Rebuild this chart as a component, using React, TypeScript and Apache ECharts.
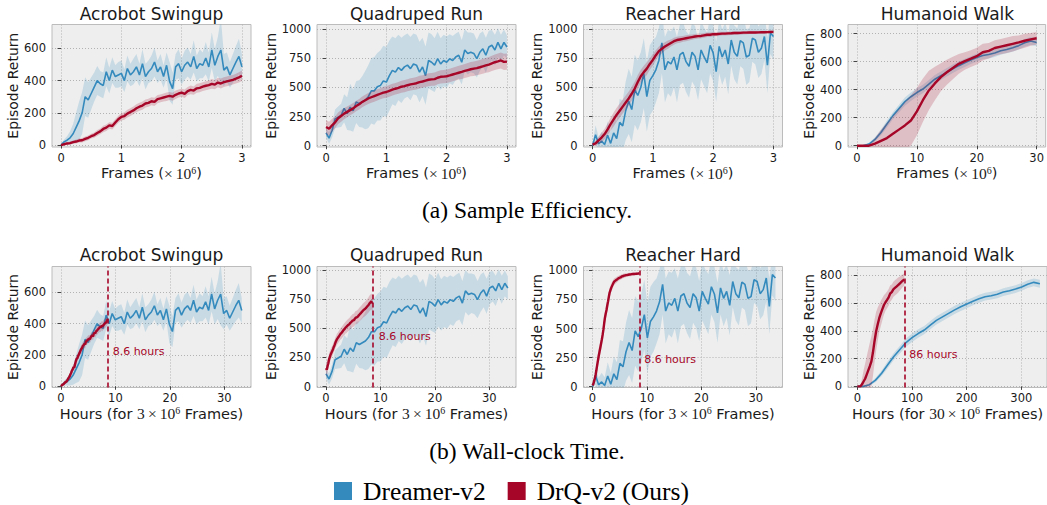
import React, { useEffect, useRef } from 'react';
import * as echarts from 'echarts';

// ---------------- data ----------------
const taskNames = ['Acrobot Swingup', 'Quadruped Run', 'Reacher Hard', 'Humanoid Walk'];
const legendNames = ['Dreamer-v2', 'DrQ-v2 (Ours)'];

// evaluation schedule, in millions of frames
const evalFrames3M = Array.from({ length: 61 }, (_, i) => Math.round(i * 5) / 100);
const evalFrames30M = Array.from({ length: 31 }, (_, i) => i);

const framesTotal = [3, 3, 3, 30]; // x10^6 frames
const dreamerHoursTotal = [33.2, 33.4, 33.6, 334];
const drqHoursTotal = [8.6, 8.6, 8.6, 86];
const hourLabels = ['8.6 hours', '8.6 hours', '8.6 hours', '86 hours'];
const hourLabelAt = [[9.4, 223], [9.6, 426], [9.4, 234], [94, 226]];

const frameTicks = [[0, 1, 2, 3], [0, 1, 2, 3], [0, 1, 2, 3], [0, 10, 20, 30]];
const hourTicks = [[0, 10, 20, 30], [0, 10, 20, 30], [0, 10, 20, 30], [0, 100, 200, 300]];
const returnTicks = [[0, 200, 400, 600], [0, 250, 500, 750, 1000], [0, 250, 500, 750, 1000], [0, 200, 400, 600, 800]];

const acrobotDreamer = [
  0, 20, 30, 45, 70, 110, 150, 200, 300, 280,
  320, 360, 400, 380, 370, 455, 400, 465, 425, 435,
  445, 400, 475, 435, 455, 485, 435, 505, 425, 455,
  475, 515, 455, 485, 425, 495, 395, 350, 485, 505,
  455, 495, 515, 485, 550, 475, 505, 495, 540, 485,
  590, 495, 550, 590, 465, 485, 435, 475, 515, 550,
  485,
];
const acrobotDreamerSpread = [
  5, 15, 25, 40, 60, 90, 120, 130, 120, 110,
  100, 90, 90, 80, 80, 90, 80, 80, 70, 80,
  80, 70, 80, 70, 80, 80, 70, 90, 80, 70,
  80, 90, 70, 80, 70, 80, 120, 100, 80, 90,
  80, 90, 90, 80, 100, 80, 90, 80, 100, 90,
  110, 100, 120, 200, 100, 90, 80, 90, 100, 110,
  80,
];
const acrobotDrq = [
  0, 5, 10, 12, 18, 22, 28, 30, 38, 45,
  55, 62, 75, 85, 100, 108, 122, 118, 140, 160,
  175, 180, 195, 205, 215, 228, 238, 245, 258, 262,
  272, 268, 285, 290, 295, 300, 305, 300, 312, 320,
  325, 318, 335, 342, 338, 352, 355, 362, 368, 372,
  380, 375, 388, 382, 390, 395, 400, 405, 412, 420,
  430,
];
const acrobotDrqSpread = [
  2, 5, 8, 10, 10, 12, 12, 14, 15, 15,
  15, 16, 18, 18, 20, 20, 20, 21, 22, 22,
  22, 23, 24, 24, 24, 25, 25, 26, 25, 25,
  25, 26, 25, 24, 25, 26, 25, 25, 26, 25,
  25, 26, 25, 27, 26, 28, 28, 27, 28, 28,
  30, 29, 30, 31, 30, 30, 31, 30, 30, 32,
  32,
];

const quadrupedDreamer = [
  110, 65, 130, 230, 245, 260, 320, 275, 330, 300,
  375, 360, 375, 390, 420, 470, 470, 505, 515, 555,
  545, 600, 645, 630, 670, 645, 675, 690, 660, 700,
  690, 630, 675, 600, 730, 715, 690, 745, 700, 730,
  715, 745, 730, 760, 775, 715, 820, 790, 800, 790,
  745, 800, 830, 775, 845, 860, 820, 885, 830, 885,
  845,
];
const quadrupedDreamerSpread = [
  40, 50, 60, 80, 90, 100, 120, 140, 200, 180,
  180, 200, 220, 250, 270, 280, 290, 290, 300, 300,
  300, 300, 290, 290, 280, 280, 270, 270, 270, 260,
  260, 260, 250, 250, 240, 240, 230, 230, 220, 220,
  220, 210, 210, 200, 200, 190, 180, 180, 170, 170,
  160, 160, 150, 150, 140, 130, 130, 120, 120, 110,
  100,
];
const quadrupedDrq = [
  160, 145, 175, 200, 235, 255, 275, 290, 305, 320,
  340, 355, 375, 390, 405, 415, 425, 435, 445, 455,
  460, 470, 480, 488, 495, 505, 510, 518, 525, 530,
  535, 545, 550, 558, 565, 568, 570, 582, 590, 592,
  595, 602, 610, 618, 625, 632, 640, 648, 655, 660,
  665, 672, 680, 688, 695, 705, 715, 722, 730, 718,
  720,
];
const quadrupedDrqSpread = [
  60, 60, 55, 50, 50, 50, 48, 46, 45, 45,
  45, 45, 46, 46, 47, 47, 48, 48, 48, 49,
  50, 50, 50, 50, 51, 51, 52, 52, 52, 53,
  53, 54, 54, 55, 55, 55, 56, 56, 57, 57,
  58, 58, 58, 59, 59, 60, 60, 61, 61, 62,
  62, 63, 64, 64, 65, 66, 67, 68, 68, 70,
  70,
];

const reacherDreamer = [
  0, 95, 15, 40, 10, 90, 20, 110, 60, 200,
  170, 300, 380, 310, 480, 430, 500, 620, 420, 560,
  600, 650, 730, 880, 650, 720, 700, 760, 650, 780,
  800, 720, 680, 800, 765, 650, 820, 760, 710, 860,
  795, 635, 850, 760, 820, 700, 905, 800, 765, 900,
  880, 760, 775, 920, 905, 800, 835, 935, 690, 965,
  935,
];
const reacherDreamerSpread = [
  10, 80, 60, 80, 70, 120, 100, 150, 150, 200,
  220, 250, 280, 280, 300, 300, 300, 300, 300, 300,
  300, 280, 280, 260, 280, 270, 280, 260, 280, 260,
  260, 260, 270, 250, 260, 260, 250, 250, 260, 240,
  240, 260, 230, 240, 230, 260, 220, 230, 240, 220,
  220, 240, 230, 200, 210, 220, 220, 200, 240, 180,
  200,
];
const reacherDrq = [
  10, 20, 45, 70, 100, 140, 185, 225, 265, 300,
  335, 370, 405, 445, 490, 545, 595, 630, 660, 700,
  735, 775, 810, 830, 850, 865, 880, 895, 905, 910,
  915, 920, 925, 930, 935, 938, 940, 945, 950, 950,
  955, 955, 958, 960, 960, 962, 963, 965, 965, 966,
  968, 968, 970, 970, 970, 971, 972, 972, 973, 974,
  975,
];
const reacherDrqSpread = [
  10, 20, 30, 40, 45, 50, 55, 60, 60, 60,
  60, 60, 60, 60, 60, 60, 55, 55, 55, 50,
  50, 45, 40, 40, 35, 35, 30, 30, 28, 28,
  25, 25, 25, 22, 22, 22, 20, 20, 20, 20,
  18, 18, 18, 16, 16, 16, 15, 15, 15, 15,
  15, 14, 14, 14, 14, 14, 13, 13, 13, 13,
  12,
];

const humanoidDreamer = [
  0, 0, 12, 45, 95, 155, 215, 265, 315, 350,
  380, 405, 440, 475, 500, 525, 550, 572, 592, 612,
  630, 645, 652, 662, 678, 688, 700, 715, 735, 748,
  738,
];
const humanoidDreamerSpread = [
  0, 2, 8, 15, 20, 25, 25, 28, 30, 30,
  30, 30, 30, 30, 30, 30, 30, 30, 30, 28,
  28, 28, 28, 28, 28, 28, 28, 28, 28, 28,
  28,
];
const humanoidDrq = [
  0, 0, 0, 15, 35, 55, 85, 115, 145, 180,
  245, 325, 395, 445, 490, 525, 555, 585, 605, 622,
  640, 668, 678, 698, 708, 718, 728, 738, 750, 760,
  768,
];
const humanoidDrqSpread = [
  0, 0, 5, 40, 80, 110, 130, 150, 170, 180,
  170, 155, 140, 120, 100, 90, 80, 70, 62, 60,
  60, 60, 55, 55, 55, 55, 55, 50, 50, 45,
  45,
];

const taskFrames = [evalFrames3M, evalFrames3M, evalFrames3M, evalFrames30M];
const dreamerMeans = [acrobotDreamer, quadrupedDreamer, reacherDreamer, humanoidDreamer];
const dreamerSpreads = [acrobotDreamerSpread, quadrupedDreamerSpread, reacherDreamerSpread, humanoidDreamerSpread];
const drqMeans = [acrobotDrq, quadrupedDrq, reacherDrq, humanoidDrq];
const drqSpreads = [acrobotDrqSpread, quadrupedDrqSpread, reacherDrqSpread, humanoidDrqSpread];

// ---------------- styling / layout ----------------
const BLUE = '#348ABD';
const RED = '#A60628';
const BLUE_BAND = 'rgba(52,138,189,0.2)';
const RED_BAND = 'rgba(166,6,40,0.2)';
const SANS = 'DejaVu Sans';
const SERIF = 'Liberation Serif';
const TEXT = '#1a1a1a';

const LEFTS = [52, 317, 583.5, 848];
const PLOT_W = 199;
const ROW_TOP = [24.5, 266.5];
const ROW_H = [122.5, 121];
const TITLE_Y = [14, 255];

const X_RANGE = [
  [[-0.15, 3.15], [-0.15, 3.15], [-0.15, 3.15], [-1.5, 31.5]],
  [[-1.65, 34.9], [-1.65, 34.9], [-1.65, 34.9], [-17, 347]],
];
const Y_RANGE = [
  [[-12, 748], [-11, 1038], [-11, 1038], [-9, 866]],
  [[-8, 766], [-8, 1029], [-8, 1034], [-8, 862]],
];

const richName = {
  t: { fontFamily: SANS, fontSize: 14.5, color: TEXT, lineHeight: 16 },
  m: { fontFamily: SERIF, fontSize: 15.5, color: TEXT, lineHeight: 16 },
  s: { fontFamily: SERIF, fontSize: 10, color: TEXT, lineHeight: 9, verticalAlign: 'top' },
};

function buildOption() {
  const grid: any[] = [];
  const xAxis: any[] = [];
  const yAxis: any[] = [];
  const series: any[] = [];
  const graphic: any[] = [];

  for (let row = 0; row < 2; row++) {
    for (let t = 0; t < 4; t++) {
      const g = row * 4 + t;
      grid.push({
        left: LEFTS[t], top: ROW_TOP[row], width: PLOT_W, height: ROW_H[row],
        show: true, backgroundColor: '#eeeeee', borderColor: '#bcbcbc', borderWidth: 1,
      });
      const xt = row === 0 ? frameTicks[t] : hourTicks[t];
      const xName = row === 0
        ? '{t|Frames (}{m|×\u200910}{s|6}{t|)}'
        : `{t|Hours (for }{m|${framesTotal[t]}\u2009×\u200910}{s|6}{t| Frames)}`;
      xAxis.push({
        type: 'value', gridIndex: g, min: X_RANGE[row][t][0], max: X_RANGE[row][t][1],
        axisLine: { show: false },
        axisTick: { show: true, customValues: xt, length: 3.5, lineStyle: { color: '#444', width: 1 } },
        axisLabel: {
          customValues: xt, margin: 4.5, fontSize: 11.5, fontFamily: SANS, color: TEXT,
          formatter: (v: number) => String(v),
        },
        splitLine: { show: true, lineStyle: { color: '#b2b2b2', type: [1, 2], width: 1 } },
        name: xName, nameLocation: 'middle', nameGap: 18,
        nameTextStyle: { rich: richName },
      });
      yAxis.push({
        type: 'value', gridIndex: g, min: Y_RANGE[row][t][0], max: Y_RANGE[row][t][1],
        axisLine: { show: false },
        axisTick: { show: true, customValues: returnTicks[t], length: 3.5, lineStyle: { color: '#444', width: 1 } },
        axisLabel: {
          customValues: returnTicks[t], margin: 6, fontSize: 11.5, fontFamily: SANS, color: TEXT,
          formatter: (v: number) => String(v),
        },
        splitLine: { show: true, lineStyle: { color: '#b2b2b2', type: [1, 2], width: 1 } },
        name: 'Episode Return', nameLocation: 'middle', nameGap: 31,
        nameTextStyle: { fontFamily: SANS, fontSize: 14, color: TEXT },
      });

      const frames = taskFrames[t];
      const dreamerX = row === 0 ? frames : frames.map((f) => (f * dreamerHoursTotal[t]) / framesTotal[t]);
      const drqX = row === 0 ? frames : frames.map((f) => (f * drqHoursTotal[t]) / framesTotal[t]);

      const band = (xs: number[], mean: number[], spread: number[], color: string, name: string, z: number) => {
        const data = xs.map((x, i) => [x, mean[i] - spread[i], mean[i] + spread[i]]);
        return {
          type: 'custom', name, xAxisIndex: g, yAxisIndex: g, silent: true, z,
          data, encode: { x: 0, y: [1, 2] },
          renderItem: (params: any, api: any) => {
            if (params.dataIndex !== 0) return null;
            const upper = data.map((d) => api.coord([d[0], d[2]]));
            const lower = data.slice().reverse().map((d) => api.coord([d[0], d[1]]));
            const cs = params.coordSys;
            return {
              type: 'polygon',
              shape: { points: upper.concat(lower) },
              style: { fill: color },
              clipPath: { type: 'rect', shape: { x: cs.x, y: cs.y, width: cs.width, height: cs.height } },
            };
          },
        };
      };

      series.push(band(dreamerX, dreamerMeans[t], dreamerSpreads[t], BLUE_BAND, 'Dreamer-v2 spread', 2));
      series.push({
        type: 'line', name: legendNames[0], xAxisIndex: g, yAxisIndex: g,
        data: dreamerX.map((x, i) => [x, dreamerMeans[t][i]]),
        symbol: 'none', showSymbol: false, color: BLUE,
        itemStyle: { color: BLUE }, lineStyle: { color: BLUE, width: 1.6 }, z: 3,
      });
      series.push(band(drqX, drqMeans[t], drqSpreads[t], RED_BAND, 'DrQ-v2 spread', 4));
      const drqLine: any = {
        type: 'line', name: legendNames[1], xAxisIndex: g, yAxisIndex: g,
        data: drqX.map((x, i) => [x, drqMeans[t][i]]),
        symbol: 'none', showSymbol: false, color: RED,
        itemStyle: { color: RED }, lineStyle: { color: RED, width: 2.4 }, z: 5,
      };
      if (row === 1) {
        drqLine.markLine = {
          silent: true, symbol: 'none', animation: false,
          data: [{ xAxis: drqHoursTotal[t] }],
          lineStyle: { color: RED, type: [5, 3], width: 1.6 },
          label: { show: false },
        };
        drqLine.markPoint = {
          silent: true, animation: false,
          data: [{
            coord: hourLabelAt[t], symbol: 'circle', symbolSize: 1,
            itemStyle: { color: 'rgba(0,0,0,0)' },
            label: {
              show: true, formatter: hourLabels[t], position: 'right', distance: 0,
              color: RED, fontSize: 11, fontFamily: SANS,
            },
          }],
        };
      }
      series.push(drqLine);

      graphic.push({
        type: 'text', x: LEFTS[t] + PLOT_W / 2, y: TITLE_Y[row], silent: true,
        style: {
          text: taskNames[t], fontSize: 17, fontFamily: SANS, fill: TEXT,
          align: 'center', verticalAlign: 'middle',
        },
      });
    }
  }

  graphic.push({
    type: 'text', x: 527, y: 209.5, silent: true,
    style: { text: '(a) Sample Efficiency.', fontSize: 23.5, fontFamily: SERIF, fill: '#000', align: 'center', verticalAlign: 'middle' },
  });
  graphic.push({
    type: 'text', x: 527, y: 451, silent: true,
    style: { text: '(b) Wall-clock Time.', fontSize: 23.5, fontFamily: SERIF, fill: '#000', align: 'center', verticalAlign: 'middle' },
  });

  return {
    animation: false,
    backgroundColor: '#ffffff',
    grid, xAxis, yAxis, series, graphic,
    legend: {
      data: [{ name: legendNames[0], icon: 'rect' }, { name: legendNames[1], icon: 'rect' }],
      left: 334, top: 478, padding: 0, itemWidth: 18, itemHeight: 18, itemGap: 22,
      selectedMode: false,
      textStyle: { fontFamily: SERIF, fontSize: 25.5, lineHeight: 26, color: '#000', padding: [0, 0, 0, 6] },
    },
  };
}

export default function App() {
  const ref = useRef<HTMLDivElement>(null);
  useEffect(() => {
    if (!ref.current) return;
    const chart = echarts.init(ref.current, undefined, { renderer: 'svg' });
    chart.setOption(buildOption() as any);
    return () => chart.dispose();
  }, []);
  return (
    <div
      ref={ref}
      style={{ position: 'absolute', left: 0, top: 0, width: 1047, height: 505, background: '#fff' }}
    />
  );
}
